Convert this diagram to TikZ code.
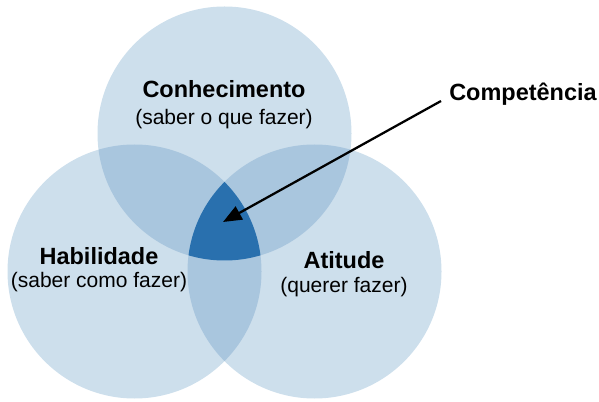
\documentclass[tikz,border=0pt]{standalone}
\usepackage{fontspec}
\setmainfont{Liberation Sans}
\usetikzlibrary{arrows.meta}
\definecolor{cLight}{HTML}{CDDFEC}
\definecolor{cMid}{HTML}{A9C6DE}
\definecolor{cDark}{HTML}{2970AE}
\tikzset{
  title/.style={inner sep=0pt, anchor=base, font=\fontsize{17.6}{20}\selectfont\bfseries},
  sub/.style={inner sep=0pt, anchor=base, font=\fontsize{15.75}{18}\selectfont},
  pointer/.style={line width=1.7pt, -{Triangle[length=14pt,width=11pt]}}
}
\begin{document}
\begin{tikzpicture}[x=0.75pt,y=-0.75pt]
\useasboundingbox (0,0) rectangle (599,402);
\def\rad{127}
\coordinate (T) at (224.5,133.5);
\coordinate (L) at (134.5,271.5);
\coordinate (R) at (314.5,271.5);
% base circles
\fill[cLight] (T) circle[radius=\rad];
\fill[cLight] (L) circle[radius=\rad];
\fill[cLight] (R) circle[radius=\rad];
% pairwise overlaps
\begin{scope}
  \clip (T) circle[radius=\rad];
  \fill[cMid] (L) circle[radius=\rad];
  \fill[cMid] (R) circle[radius=\rad];
\end{scope}
\begin{scope}
  \clip (L) circle[radius=\rad];
  \fill[cMid] (R) circle[radius=\rad];
\end{scope}
% triple overlap
\begin{scope}
  \clip (T) circle[radius=\rad];
  \clip (L) circle[radius=\rad];
  \fill[cDark] (R) circle[radius=\rad];
\end{scope}
% labels
\node[title] (conh) at (224,97.3) {Conhecimento};
\node[sub] (conhs) at (224,125) {(saber o que fazer)};
\node[title] (hab) at (99,264.3) {Habilidade};
\node[sub] (habs) at (99,288) {(saber como fazer)};
\node[title] (ati) at (344,268.3) {Atitude};
\node[sub] (atis) at (344,293) {(querer fazer)};
\node[title, anchor=base west] (comp) at (449,101) {Competência};
% arrow
\coordinate (arrS) at (441,101);
\coordinate (tip) at (223,222);
\draw[pointer] (arrS) -- (tip);
\end{tikzpicture}
\end{document}
